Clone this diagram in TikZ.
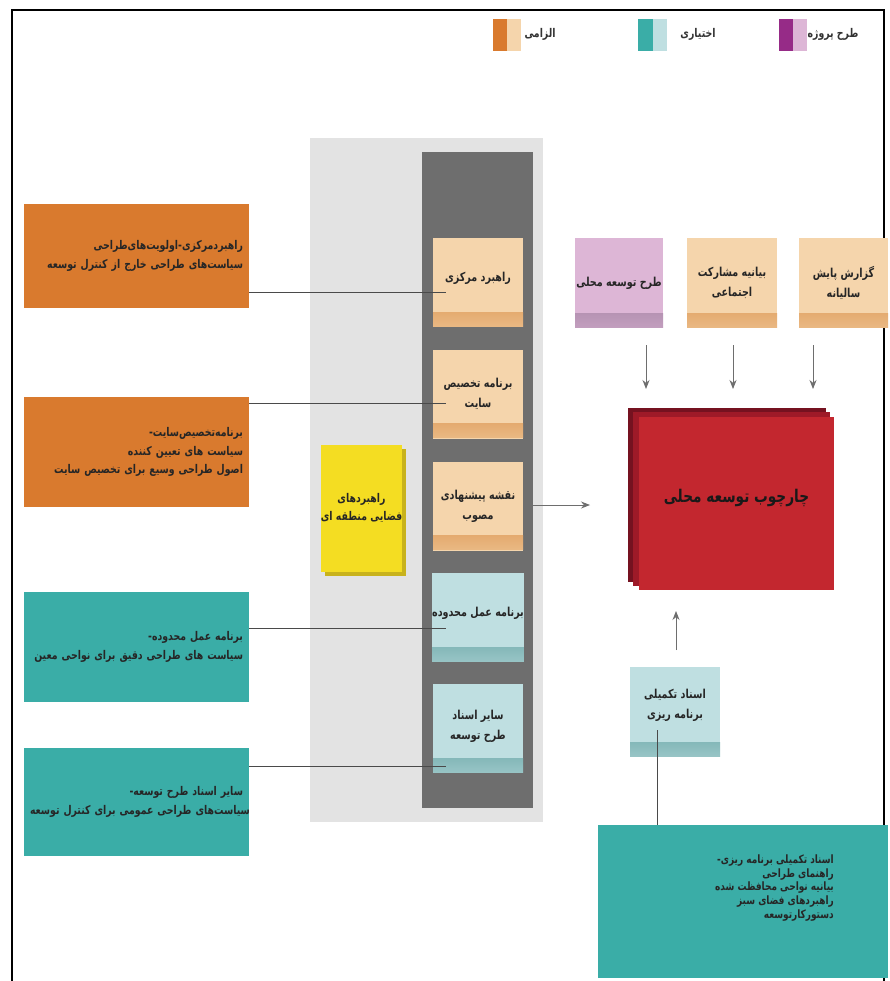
\documentclass[tikz,border=0pt]{standalone}
\usepackage{fontspec}
\setmainfont{DejaVu Sans}
\newfontfamily\arabicfont[Script=Arabic, FakeStretch=0.78]{DejaVu Sans}
\TeXXeTstate=1
\usetikzlibrary{arrows.meta,shadows}
\newcommand\rl[1]{\mbox{\beginR #1\endR}}
\definecolor{orgD}{HTML}{D97A2E}
\definecolor{orgL}{HTML}{F5D5AC}
\definecolor{orgS}{HTML}{D98F48}
\definecolor{tealD}{HTML}{3AADA7}
\definecolor{tealL}{HTML}{BFDFE1}
\definecolor{tealS}{HTML}{5E9E9E}
\definecolor{purD}{HTML}{962B87}
\definecolor{purL}{HTML}{DDB6D6}
\definecolor{purS}{HTML}{9C7C9C}
\definecolor{redF}{HTML}{C3272F}
\definecolor{redM}{HTML}{9E1A28}
\definecolor{redB}{HTML}{751220}
\definecolor{yel}{HTML}{F4DD22}
\definecolor{yelS}{HTML}{C8B21C}
\definecolor{panel}{HTML}{E3E3E3}
\definecolor{colgray}{HTML}{6E6E6E}
\definecolor{conn}{HTML}{4A4A4A}
\tikzset{
  fa/.style={font=\arabicfont\bfseries\fontsize{12}{18.5}\selectfont, text=black!85},
  leftbox/.style={fa, text width=213pt, inner xsep=6pt, inner ysep=0pt, align=right, minimum width=225pt},
  cbox/.style={font=\arabicfont\bfseries\fontsize{12.3}{20}\selectfont, text=black!85, minimum width=#1, minimum height=89pt, inner sep=0pt, align=center},
  cbox/.default=90pt,
  stripe/.style args={#1/#2}{path picture={
     \shade[top color=#1, bottom color=#1!60!#2, middle color=#2]
       ([yshift=1pt]path picture bounding box.south west) rectangle ([yshift=15pt]path picture bounding box.south east);}},
  peach/.style={fill=orgL, stripe=orgL/orgS},
  tealbox/.style={fill=tealL, stripe=tealL/tealS},
  purbox/.style={fill=purL, stripe=purL/purS},
  connline/.style={draw=conn, line width=0.9pt},
  arr/.style={draw=conn!80, line width=0.9pt, -{Stealth[length=9pt,width=7pt]}},
  legtext/.style={font=\arabicfont\bfseries\fontsize{12}{12}\selectfont, text=black!80},
}
\begin{document}
\begin{tikzpicture}[x=1pt,y=-1pt]
\useasboundingbox (0,0) rectangle (890,981);
\fill[white] (0,0) rectangle (890,981);
% frame
\draw[black, line width=1.4pt] (12,981) -- (12,10) -- (884,10) -- (884,981);

% legend
\fill[orgD] (493,19) rectangle (507,51);
\fill[orgL] (507,19) rectangle (521,51);
\node[legtext] (lg1) at (540,34) {الزامی};
\fill[tealD] (638,19) rectangle (653,51);
\fill[tealL] (653,19) rectangle (667,51);
\node[legtext] (lg2) at (698,34) {اختیاری};
\fill[purD] (779,19) rectangle (793,51);
\fill[purL] (793,19) rectangle (807,51);
\node[legtext] (lg3) at (833,34) {\rl{طرح پروژه}};

% panel and column
\node[fill=panel, minimum width=233pt, minimum height=684pt, inner sep=0pt] (panel) at (426.5,480) {};
\node[fill=colgray, minimum width=111pt, minimum height=656pt, inner sep=0pt] (col) at (477.5,480) {};

% column boxes
\node[cbox, peach] (c1) at (478,282.5) {\rl{راهبرد مرکزی}\\[-8pt]};
\node[cbox, peach] (c2) at (478,394) {\rl{برنامه تخصیص}\\\rl{سایت}};
\node[cbox, peach] (c3) at (478,506) {\rl{نقشه پیشنهادی}\\\rl{مصوب}};
\node[cbox, tealbox] (c4) at (478,617.5) {\rl{برنامه عمل محدوده}\\[-8pt]};
\node[cbox, tealbox] (c5) at (478,728.5) {\rl{سایر اسناد}\\\rl{طرح توسعه}\\[-12pt]};

% yellow box
\node[fill=yel, minimum width=77pt, minimum height=127pt, inner sep=0pt, align=center,
      font=\arabicfont\bfseries\fontsize{12}{18.5}\selectfont, text=black!85,
      drop shadow={shadow xshift=4pt, shadow yshift=-4pt, fill=yelS, opacity=1}] (yb) at (361.5,508)
      {\rl{راهبردهای}\\\rl{فضایی منطقه ای}};

% left boxes
\node[leftbox, fill=orgD, minimum height=103pt] (lA) at (136.5,256)
  {\rl{راهبردمرکزی-اولویت‌های‌طراحی}\\\rl{سیاست‌های طراحی خارج از کنترل توسعه}};
\node[leftbox, fill=orgD, minimum height=110pt] (lB) at (136.5,452)
  {\rl{برنامه‌تخصیص‌سایت-}\\\rl{سیاست های تعیین کننده}\\\rl{اصول طراحی وسیع برای تخصیص سایت}};
\node[leftbox, fill=tealD, minimum height=110pt] (lC) at (136.5,647)
  {\rl{برنامه عمل محدوده-}\\\rl{سیاست های طراحی دقیق برای نواحی معین}};
\node[leftbox, fill=tealD, minimum height=108pt] (lD) at (136.5,802)
  {\rl{سایر اسناد طرح توسعه-}\\\rl{سیاست‌های طراحی عمومی برای کنترل توسعه}};

% connectors left
\coordinate (e1) at (446,292);
\coordinate (e2) at (446,403);
\coordinate (e3) at (446,628);
\coordinate (e4) at (446,766);
\draw[connline] (lA.east |- e1) -- (e1);
\draw[connline] (lB.east |- e2) -- (e2);
\draw[connline] (lC.east |- e3) -- (e3);
\draw[connline] (lD.east |- e4) -- (e4);

% top right boxes
\node[cbox=88pt, purbox, minimum height=90pt] (t1) at (619,283) {\rl{طرح توسعه محلی}};
\node[cbox, peach, minimum height=90pt] (t2) at (732,283) {\rl{بیانیه مشارکت}\\\rl{اجتماعی}};
\node[cbox=89pt, peach, minimum height=90pt] (t3) at (843.5,283) {\rl{گزارش پایش}\\\rl{سالیانه}};

% red stack
\node[fill=redB, minimum width=198pt, minimum height=174pt, inner sep=0pt] (r3) at (727,495) {};
\node[fill=redM, minimum width=197pt, minimum height=174pt, inner sep=0pt] (r2) at (731.5,499) {};
\node[fill=redF, minimum width=195pt, minimum height=173pt, inner sep=0pt, align=center,
      font=\arabicfont\bfseries\fontsize{17.5}{20}\selectfont, text=black!90] (r1) at (736.5,503.5)
      {\rl{چارچوب توسعه محلی}\\[-4pt]};

% arrows into red
\coordinate (ra) at (590,505);
\draw[arr] (col.east |- ra) -- (ra);
\coordinate (d1s) at (646,345); \coordinate (d1e) at (646,389);
\coordinate (d2s) at (733,345); \coordinate (d2e) at (733,389);
\coordinate (d3s) at (813,345); \coordinate (d3e) at (813,389);
\draw[arr] (d1s) -- (d1e);
\draw[arr] (d2s) -- (d2e);
\draw[arr] (d3s) -- (d3e);

% small box and big teal box
\node[cbox, tealbox, minimum height=90pt] (s1) at (675,712) {\rl{اسناد تکمیلی}\\\rl{برنامه ریزی}\\[-4pt]};
\coordinate (us) at (676,650); \coordinate (ue) at (676,611);
\draw[arr] (us) -- (ue);
\node[fill=tealD, minimum width=290pt, minimum height=153pt, inner sep=0pt] (big) at (743,901.5) {};
\node[font=\arabicfont\bfseries\fontsize{11.5}{13.8}\selectfont, text=black!85, align=right, inner sep=0pt, anchor=east] (bigt) at (834,888)
  {\rl{اسناد تکمیلی برنامه ریزی-}\\\rl{راهنمای طراحی}\\\rl{بیانیه نواحی محافظت شده}\\\rl{راهبردهای فضای سبز}\\\rl{دستورکارتوسعه}};
\coordinate (v1) at (657,730);
\draw[connline, line width=0.8pt] (v1) -- (v1 |- big.north);
\end{tikzpicture}
\end{document}
